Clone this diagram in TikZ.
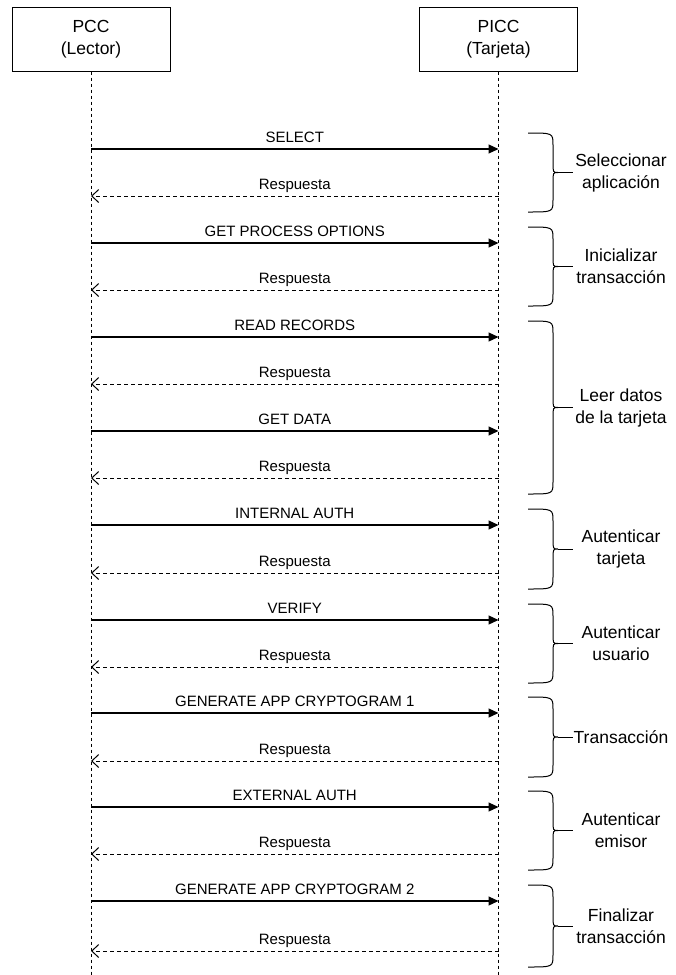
\documentclass[tikz,border=0pt]{standalone}
\usepackage{fontspec}
\setmainfont{Liberation Sans}
\usetikzlibrary{arrows.meta,positioning,calc}

\begin{document}
\begin{tikzpicture}[x=1pt,y=-1pt,line width=1pt,
  every node/.style={font=\fontsize{15}{18}\selectfont,inner sep=0pt},
  actor/.style={draw,minimum width=158pt,minimum height=64pt,align=center,font=\fontsize{17.5}{22}\selectfont},
  lifeline/.style={dash pattern=on 3pt off 3pt},
  request/.style={-{Triangle[length=10pt,width=9pt]},line width=1.2pt},
  reply/.style={-{Straight Barb[length=7pt,width=13pt]},dash pattern=on 4pt off 3pt},
  phase/.style={align=center,font=\fontsize{17.5}{22}\selectfont}]
\useasboundingbox (0,0) rectangle (676,975);
% participants and lifelines
\node[actor] (pcc) at (91,39) {PCC\\(Lector)};
\node[actor] (picc) at (498.5,39) {PICC\\(Tarjeta)};
\coordinate (pcc-end) at (91,975);
\coordinate (picc-end) at (498.5,975);
\draw[lifeline] (pcc) -- (pcc-end);
\draw[lifeline] (picc) -- (picc-end);
% commands PCC -> PICC
\foreach \k/\y/\lab in {1/149/SELECT,3/243/GET PROCESS OPTIONS,5/337/READ RECORDS,7/431/GET DATA,
  9/525/INTERNAL AUTH,11/620/VERIFY,13/713/GENERATE APP CRYPTOGRAM 1,15/807/EXTERNAL AUTH,
  17/901/GENERATE APP CRYPTOGRAM 2}{
  \coordinate (pcc-\k) at (91,\y);
  \coordinate (picc-\k) at (498.5,\y);
  \draw[request] (pcc-\k) -- node[anchor=base,yshift=7pt] (msg-\k) {\lab} (picc-\k);
}
% answers PICC -> PCC
\foreach \k/\y in {2/196,4/290,6/384,8/478,10/573,12/667,14/761,16/854,18/951}{
  \coordinate (pcc-\k) at (91,\y);
  \coordinate (picc-\k) at (498.5,\y);
  \draw[reply] (picc-\k) -- node[anchor=base,yshift=7pt] (msg-\k) {Respuesta} (pcc-\k);
}
% phases (curly brackets)
\foreach \k/\a/\b/\lab in {1/149/196/{Seleccionar\\aplicación},2/243/290/{Inicializar\\transacción},
  3/337/478/{Leer datos\\de la tarjeta},4/525/573/{Autenticar\\tarjeta},5/620/667/{Autenticar\\usuario},
  6/713/761/{Transacción},7/807/854/{Autenticar\\emisor},8/901/951/{Finalizar\\transacción}}{
  \pgfmathsetmacro{\t}{\a-16}
  \pgfmathsetmacro{\bt}{\b+16}
  \pgfmathsetmacro{\m}{(\a+\b)/2}
  \draw (528,\t) .. controls (553,\t) .. (553,\t+12) -- (553,\m-10) .. controls (553,\m) .. (558,\m)
        .. controls (553,\m) .. (553,\m+10) -- (553,\bt-12) .. controls (553,\bt) .. (528,\bt);
  \draw (558,\m) -- (573,\m);
  \node[phase] (phase-\k) at (621,\m) {\lab};
}
\end{tikzpicture}
\end{document}
